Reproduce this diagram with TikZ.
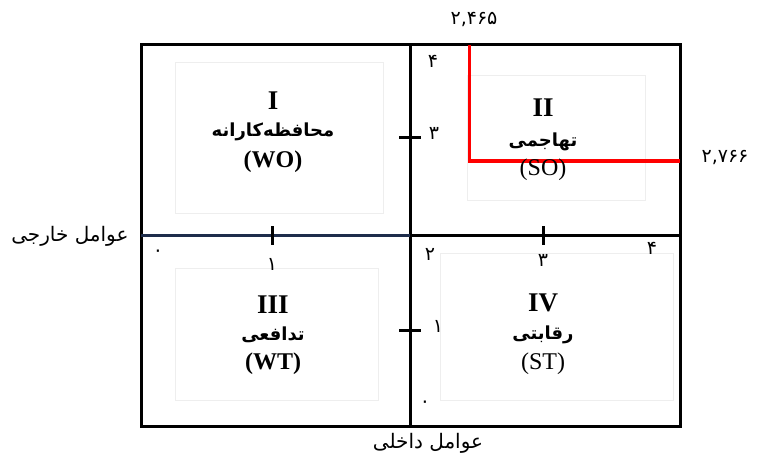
\documentclass[tikz,border=0pt]{standalone}
\usepackage{fontspec}
\setmainfont{Liberation Serif}
\newfontfamily\fa[Script=Arabic]{DejaVu Sans}
\TeXXeTstate=1
\definecolor{navy}{RGB}{30,45,75}
\definecolor{faint}{RGB}{238,238,238}
\begin{document}
\begin{tikzpicture}[x=1pt,y=-1pt,
  frame/.style={draw=black,line width=3pt},
  axis/.style={line width=3pt},
  tick/.style={line width=3pt},
  roman/.style={font=\fontsize{27}{29}\selectfont\bfseries},
  fatext/.style={font=\fa\bfseries\fontsize{18}{20}\selectfont},
  code/.style={font=\fontsize{24}{26}\selectfont},
  num/.style={font=\fa\fontsize{19}{21}\selectfont},
  axlab/.style={font=\fa\fontsize{20}{22}\selectfont},
  redline/.style={draw=red,line width=3pt}]
\useasboundingbox (0,0) rectangle (759,457);
% faint quadrant boxes
\node[draw=faint,line width=0.6pt,minimum width=208pt,minimum height=151pt] (b1) at (279,137.5) {};
\node[draw=faint,line width=0.6pt,minimum width=178pt,minimum height=125pt] (b2) at (556,137.5) {};
\node[draw=faint,line width=0.6pt,minimum width=203pt,minimum height=132pt] (b3) at (276.5,334) {};
\node[draw=faint,line width=0.6pt,minimum width=233pt,minimum height=147pt] (b4) at (556.5,326.5) {};
% frame
\coordinate (tl) at (141,45);
\coordinate (br) at (680,426);
\draw[frame] (tl) rectangle (br);
% axes
\coordinate (vt) at (410,45);
\coordinate (vb) at (410,426);
\coordinate (hl) at (141,235);
\coordinate (hm) at (410,235);
\coordinate (hr) at (680,235);
\draw[axis] (vt) -- (vb);
\draw[axis,navy] (hl) -- (hm);
\draw[axis] (hm) -- (hr);
% ticks
\coordinate (tx1a) at (272,226); \coordinate (tx1b) at (272,245);
\coordinate (tx3a) at (543,226); \coordinate (tx3b) at (543,245);
\coordinate (ty3a) at (399,138); \coordinate (ty3b) at (421,138);
\coordinate (ty1a) at (399,330); \coordinate (ty1b) at (421,330);
\draw[tick] (tx1a) -- (tx1b);
\draw[tick] (tx3a) -- (tx3b);
\draw[tick] (ty3a) -- (ty3b);
\draw[tick] (ty1a) -- (ty1b);
% red lines
\coordinate (r1) at (469,45);
\coordinate (r2) at (469,161);
\coordinate (r3) at (680,161);
\draw[redline] (r1) -- (r2) -- (r3);
% numbers
\node[num] (n0h) at (158,253) {۰};
\node[num] (n1h) at (272,264) {۱};
\node[num] (n2h) at (430,254) {۲};
\node[num] (n3h) at (543,260) {۳};
\node[num] (n4h) at (652,248) {۴};
\node[num] (n4v) at (433,61) {۴};
\node[num] (n3v) at (434,133) {۳};
\node[num] (n1v) at (438,326) {۱};
\node[num] (n0v) at (425,404) {۰};
\node[num] (nx) at (474,19) {۲,۴۶۵};
\node[num] (ny) at (725,158) {۲,۷۶۶};
% axis labels
\node[axlab,anchor=east] (ext) at (132,236) {\beginR عوامل خارجی\endR};
\node[axlab] (int) at (428,443) {\beginR عوامل داخلی\endR};
% quadrant texts
\node[roman] (q1r) at (273,101) {I};
\node[fatext] (q1f) at (273,132) {\beginR محافظه‌کارانه\endR};
\node[code,font=\fontsize{24}{26}\selectfont\bfseries] (q1c) at (273,162) {(WO)};
\node[roman] (q2r) at (543,108) {II};
\node[fatext] (q2f) at (543,142) {\beginR تهاجمی\endR};
\node[code] (q2c) at (543,170) {(SO)};
\node[roman] (q3r) at (273,305) {III};
\node[fatext] (q3f) at (273,335) {\beginR تدافعی\endR};
\node[code,font=\fontsize{24}{26}\selectfont\bfseries] (q3c) at (273,364) {(WT)};
\node[roman] (q4r) at (543,303) {IV};
\node[fatext] (q4f) at (543,335) {\beginR رقابتی\endR};
\node[code] (q4c) at (543,364) {(ST)};
\end{tikzpicture}
\end{document}
